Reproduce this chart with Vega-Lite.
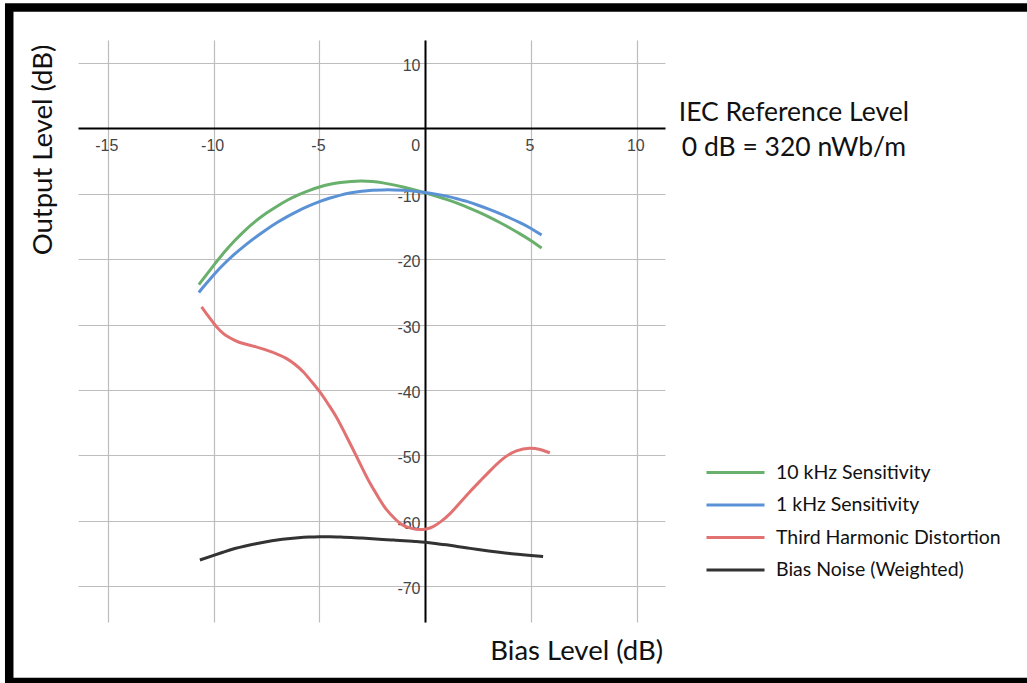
{
  "$schema": "https://vega.github.io/schema/vega-lite/v6.json",
  "width": 587,
  "height": 582,
  "autosize": {"type": "none"},
  "padding": {"left": 78, "top": 40, "right": 362, "bottom": 61},
  "background": "white",
  "config": {"view": {"stroke": null}},
  "layer": [
    {
      "data": {"values": [
        {"series": "10 kHz Sensitivity", "x": -10.7, "y": -23.9},
        {"series": "10 kHz Sensitivity", "x": -10.5, "y": -23.05},
        {"series": "10 kHz Sensitivity", "x": -10, "y": -20.95},
        {"series": "10 kHz Sensitivity", "x": -9.5, "y": -18.95},
        {"series": "10 kHz Sensitivity", "x": -9, "y": -17.15},
        {"series": "10 kHz Sensitivity", "x": -8.5, "y": -15.55},
        {"series": "10 kHz Sensitivity", "x": -8, "y": -14.15},
        {"series": "10 kHz Sensitivity", "x": -7.5, "y": -12.95},
        {"series": "10 kHz Sensitivity", "x": -7, "y": -11.9},
        {"series": "10 kHz Sensitivity", "x": -6.5, "y": -10.95},
        {"series": "10 kHz Sensitivity", "x": -6, "y": -10.15},
        {"series": "10 kHz Sensitivity", "x": -5.5, "y": -9.5},
        {"series": "10 kHz Sensitivity", "x": -5, "y": -8.95},
        {"series": "10 kHz Sensitivity", "x": -4.5, "y": -8.55},
        {"series": "10 kHz Sensitivity", "x": -4, "y": -8.27},
        {"series": "10 kHz Sensitivity", "x": -3.5, "y": -8.1},
        {"series": "10 kHz Sensitivity", "x": -3, "y": -8.05},
        {"series": "10 kHz Sensitivity", "x": -2.5, "y": -8.13},
        {"series": "10 kHz Sensitivity", "x": -2, "y": -8.33},
        {"series": "10 kHz Sensitivity", "x": -1.5, "y": -8.63},
        {"series": "10 kHz Sensitivity", "x": -1, "y": -9.0},
        {"series": "10 kHz Sensitivity", "x": -0.5, "y": -9.4},
        {"series": "10 kHz Sensitivity", "x": 0, "y": -9.85},
        {"series": "10 kHz Sensitivity", "x": 0.5, "y": -10.33},
        {"series": "10 kHz Sensitivity", "x": 1, "y": -10.85},
        {"series": "10 kHz Sensitivity", "x": 1.5, "y": -11.43},
        {"series": "10 kHz Sensitivity", "x": 2, "y": -12.07},
        {"series": "10 kHz Sensitivity", "x": 2.5, "y": -12.77},
        {"series": "10 kHz Sensitivity", "x": 3, "y": -13.53},
        {"series": "10 kHz Sensitivity", "x": 3.5, "y": -14.35},
        {"series": "10 kHz Sensitivity", "x": 4, "y": -15.23},
        {"series": "10 kHz Sensitivity", "x": 4.5, "y": -16.17},
        {"series": "10 kHz Sensitivity", "x": 5, "y": -17.17},
        {"series": "10 kHz Sensitivity", "x": 5.5, "y": -18.3},
        {"series": "1 kHz Sensitivity", "x": -10.7, "y": -25.1},
        {"series": "1 kHz Sensitivity", "x": -10.5, "y": -24.3},
        {"series": "1 kHz Sensitivity", "x": -10, "y": -22.4},
        {"series": "1 kHz Sensitivity", "x": -9.5, "y": -20.7},
        {"series": "1 kHz Sensitivity", "x": -9, "y": -19.2},
        {"series": "1 kHz Sensitivity", "x": -8.5, "y": -17.85},
        {"series": "1 kHz Sensitivity", "x": -8, "y": -16.6},
        {"series": "1 kHz Sensitivity", "x": -7.5, "y": -15.45},
        {"series": "1 kHz Sensitivity", "x": -7, "y": -14.4},
        {"series": "1 kHz Sensitivity", "x": -6.5, "y": -13.45},
        {"series": "1 kHz Sensitivity", "x": -6, "y": -12.6},
        {"series": "1 kHz Sensitivity", "x": -5.5, "y": -11.85},
        {"series": "1 kHz Sensitivity", "x": -5, "y": -11.2},
        {"series": "1 kHz Sensitivity", "x": -4.5, "y": -10.65},
        {"series": "1 kHz Sensitivity", "x": -4, "y": -10.2},
        {"series": "1 kHz Sensitivity", "x": -3.5, "y": -9.85},
        {"series": "1 kHz Sensitivity", "x": -3, "y": -9.6},
        {"series": "1 kHz Sensitivity", "x": -2.5, "y": -9.45},
        {"series": "1 kHz Sensitivity", "x": -2, "y": -9.4},
        {"series": "1 kHz Sensitivity", "x": -1.5, "y": -9.4},
        {"series": "1 kHz Sensitivity", "x": -1, "y": -9.45},
        {"series": "1 kHz Sensitivity", "x": -0.5, "y": -9.6},
        {"series": "1 kHz Sensitivity", "x": 0, "y": -9.8},
        {"series": "1 kHz Sensitivity", "x": 0.5, "y": -10.05},
        {"series": "1 kHz Sensitivity", "x": 1, "y": -10.35},
        {"series": "1 kHz Sensitivity", "x": 1.5, "y": -10.75},
        {"series": "1 kHz Sensitivity", "x": 2, "y": -11.2},
        {"series": "1 kHz Sensitivity", "x": 2.5, "y": -11.75},
        {"series": "1 kHz Sensitivity", "x": 3, "y": -12.35},
        {"series": "1 kHz Sensitivity", "x": 3.5, "y": -13.0},
        {"series": "1 kHz Sensitivity", "x": 4, "y": -13.7},
        {"series": "1 kHz Sensitivity", "x": 4.5, "y": -14.45},
        {"series": "1 kHz Sensitivity", "x": 5, "y": -15.3},
        {"series": "1 kHz Sensitivity", "x": 5.5, "y": -16.3},
        {"series": "Third Harmonic Distortion", "x": -10.57, "y": -27.3},
        {"series": "Third Harmonic Distortion", "x": -10.3, "y": -28.5},
        {"series": "Third Harmonic Distortion", "x": -10.0, "y": -29.8},
        {"series": "Third Harmonic Distortion", "x": -9.7, "y": -30.9},
        {"series": "Third Harmonic Distortion", "x": -9.4, "y": -31.7},
        {"series": "Third Harmonic Distortion", "x": -9.0, "y": -32.4},
        {"series": "Third Harmonic Distortion", "x": -8.6, "y": -32.9},
        {"series": "Third Harmonic Distortion", "x": -8.0, "y": -33.4},
        {"series": "Third Harmonic Distortion", "x": -7.5, "y": -33.9},
        {"series": "Third Harmonic Distortion", "x": -7.0, "y": -34.5},
        {"series": "Third Harmonic Distortion", "x": -6.55, "y": -35.2},
        {"series": "Third Harmonic Distortion", "x": -6.15, "y": -36.1},
        {"series": "Third Harmonic Distortion", "x": -5.77, "y": -37.2},
        {"series": "Third Harmonic Distortion", "x": -5.4, "y": -38.6},
        {"series": "Third Harmonic Distortion", "x": -4.98, "y": -40.3},
        {"series": "Third Harmonic Distortion", "x": -4.6, "y": -42.1},
        {"series": "Third Harmonic Distortion", "x": -4.19, "y": -44.2},
        {"series": "Third Harmonic Distortion", "x": -3.8, "y": -46.6},
        {"series": "Third Harmonic Distortion", "x": -3.41, "y": -49.1},
        {"series": "Third Harmonic Distortion", "x": -3.0, "y": -51.8},
        {"series": "Third Harmonic Distortion", "x": -2.62, "y": -54.2},
        {"series": "Third Harmonic Distortion", "x": -2.2, "y": -56.5},
        {"series": "Third Harmonic Distortion", "x": -1.83, "y": -58.3},
        {"series": "Third Harmonic Distortion", "x": -1.4, "y": -59.8},
        {"series": "Third Harmonic Distortion", "x": -1.04, "y": -60.7},
        {"series": "Third Harmonic Distortion", "x": -0.6, "y": -61.2},
        {"series": "Third Harmonic Distortion", "x": -0.26, "y": -61.35},
        {"series": "Third Harmonic Distortion", "x": 0.05, "y": -61.25},
        {"series": "Third Harmonic Distortion", "x": 0.37, "y": -60.9},
        {"series": "Third Harmonic Distortion", "x": 0.75, "y": -60.1},
        {"series": "Third Harmonic Distortion", "x": 1.16, "y": -58.95},
        {"series": "Third Harmonic Distortion", "x": 1.6, "y": -57.4},
        {"series": "Third Harmonic Distortion", "x": 2.1, "y": -55.6},
        {"series": "Third Harmonic Distortion", "x": 2.6, "y": -53.9},
        {"series": "Third Harmonic Distortion", "x": 3.05, "y": -52.4},
        {"series": "Third Harmonic Distortion", "x": 3.68, "y": -50.5},
        {"series": "Third Harmonic Distortion", "x": 4.31, "y": -49.3},
        {"series": "Third Harmonic Distortion", "x": 4.94, "y": -48.9},
        {"series": "Third Harmonic Distortion", "x": 5.42, "y": -49.1},
        {"series": "Third Harmonic Distortion", "x": 5.89, "y": -49.6},
        {"series": "Bias Noise (Weighted)", "x": -10.65, "y": -66.0},
        {"series": "Bias Noise (Weighted)", "x": -10, "y": -65.3},
        {"series": "Bias Noise (Weighted)", "x": -9.5, "y": -64.75},
        {"series": "Bias Noise (Weighted)", "x": -9, "y": -64.25},
        {"series": "Bias Noise (Weighted)", "x": -8.5, "y": -63.85},
        {"series": "Bias Noise (Weighted)", "x": -8, "y": -63.5},
        {"series": "Bias Noise (Weighted)", "x": -7.5, "y": -63.2},
        {"series": "Bias Noise (Weighted)", "x": -7, "y": -62.95},
        {"series": "Bias Noise (Weighted)", "x": -6.5, "y": -62.75},
        {"series": "Bias Noise (Weighted)", "x": -6, "y": -62.6},
        {"series": "Bias Noise (Weighted)", "x": -5.5, "y": -62.5},
        {"series": "Bias Noise (Weighted)", "x": -5, "y": -62.45},
        {"series": "Bias Noise (Weighted)", "x": -4.5, "y": -62.45},
        {"series": "Bias Noise (Weighted)", "x": -4, "y": -62.5},
        {"series": "Bias Noise (Weighted)", "x": -3.5, "y": -62.55},
        {"series": "Bias Noise (Weighted)", "x": -3, "y": -62.65},
        {"series": "Bias Noise (Weighted)", "x": -2.5, "y": -62.75},
        {"series": "Bias Noise (Weighted)", "x": -2, "y": -62.85},
        {"series": "Bias Noise (Weighted)", "x": -1.5, "y": -62.95},
        {"series": "Bias Noise (Weighted)", "x": -1, "y": -63.05},
        {"series": "Bias Noise (Weighted)", "x": -0.5, "y": -63.17},
        {"series": "Bias Noise (Weighted)", "x": 0, "y": -63.3},
        {"series": "Bias Noise (Weighted)", "x": 0.5, "y": -63.48},
        {"series": "Bias Noise (Weighted)", "x": 1, "y": -63.68},
        {"series": "Bias Noise (Weighted)", "x": 1.5, "y": -63.92},
        {"series": "Bias Noise (Weighted)", "x": 2, "y": -64.16},
        {"series": "Bias Noise (Weighted)", "x": 2.5, "y": -64.4},
        {"series": "Bias Noise (Weighted)", "x": 3, "y": -64.62},
        {"series": "Bias Noise (Weighted)", "x": 3.5, "y": -64.82},
        {"series": "Bias Noise (Weighted)", "x": 4, "y": -65.0},
        {"series": "Bias Noise (Weighted)", "x": 4.5, "y": -65.15},
        {"series": "Bias Noise (Weighted)", "x": 5, "y": -65.3},
        {"series": "Bias Noise (Weighted)", "x": 5.57, "y": -65.45}
      ]},
      "mark": {"type": "line", "interpolate": "natural", "strokeWidth": 3},
      "encoding": {
        "x": {
          "field": "x", "type": "quantitative",
          "scale": {"domain": [-16.41, 11.33], "nice": false, "zero": false},
          "axis": {
            "orient": "bottom", "offset": -494, "title": null,
            "values": [-15, -10, -5, 0, 5, 10],
            "labelExpr": "'' + datum.value",
            "domain": true, "domainColor": "black", "domainWidth": 2,
            "ticks": false,
            "grid": true, "gridColor": "#bdbdbd", "gridWidth": 1.2,
            "labelFont": "Liberation Sans", "labelFontSize": 16, "labelColor": "#454545",
            "labelPadding": 9, "labelFlush": false, "labelOverlap": false,
            "labelOffset": {"condition": {"test": "datum.value === 0", "value": -10}, "value": -1.5}
          }
        },
        "y": {
          "field": "y", "type": "quantitative",
          "scale": {"domain": [-75.48, 13.52], "nice": false, "zero": false},
          "axis": {
            "orient": "left", "offset": -347, "title": null,
            "values": [10, -10, -20, -30, -40, -50, -60, -70],
            "labelExpr": "'' + datum.value",
            "domain": true, "domainColor": "black", "domainWidth": 2,
            "ticks": false,
            "grid": true, "gridColor": "#bdbdbd", "gridWidth": 1.2,
            "labelFont": "Liberation Sans", "labelFontSize": 16, "labelColor": "#454545",
            "labelPadding": 5, "labelOffset": 2.5, "labelOverlap": false
          }
        },
        "color": {
          "field": "series", "type": "nominal",
          "scale": {
            "domain": ["10 kHz Sensitivity", "1 kHz Sensitivity", "Third Harmonic Distortion", "Bias Noise (Weighted)"],
            "range": ["#68b06c", "#5b92d6", "#e27272", "#333333"]
          },
          "legend": {
            "orient": "none", "legendX": 641.5, "legendY": 416.5,
            "title": null,
            "symbolType": "M-2,0H2", "symbolSize": 841, "symbolStrokeWidth": 3,
            "labelFont": "Lato", "labelFontSize": 19.5, "labelColor": "#111111",
            "labelLimit": 0,
            "labelOffset": 24.5, "rowPadding": 6.5
          }
        }
      }
    },
    {
      "data": {"values": [{"label": "IEC Reference Level"}]},
      "mark": {"type": "text", "font": "Lato", "fontSize": 26.5, "color": "#111111", "align": "center", "baseline": "middle", "clip": false},
      "encoding": {"x": {"datum": 17.42}, "y": {"datum": 2.29}, "text": {"field": "label"}}
    },
    {
      "data": {"values": [{"label": "0 dB = 320 nWb/m"}]},
      "mark": {"type": "text", "font": "Lato", "fontSize": 26.5, "color": "#111111", "align": "center", "baseline": "middle", "clip": false},
      "encoding": {"x": {"datum": 17.42}, "y": {"datum": -3.06}, "text": {"field": "label"}}
    },
    {
      "data": {"values": [{"label": "Bias Level (dB)"}]},
      "mark": {"type": "text", "font": "Lato", "fontSize": 27.5, "color": "#111111", "align": "right", "baseline": "middle", "clip": false},
      "encoding": {"x": {"datum": 11.24}, "y": {"datum": -80.0}, "text": {"field": "label"}}
    },
    {
      "data": {"values": [{"label": "Output Level (dB)"}]},
      "mark": {"type": "text", "font": "Lato", "fontSize": 27.5, "color": "#111111", "align": "center", "baseline": "middle", "angle": 270, "clip": false},
      "encoding": {"x": {"datum": -18.04}, "y": {"datum": -3.3}, "text": {"field": "label"}}
    },
    {
      "data": {"values": [{"label": "frame"}]},
      "mark": {"type": "rect", "filled": false, "stroke": "black", "strokeWidth": 8.5, "clip": false},
      "encoding": {"x": {"datum": -19.66}, "x2": {"datum": 30}, "y": {"datum": 18.49}, "y2": {"datum": -84.64}}
    }
  ]
}
